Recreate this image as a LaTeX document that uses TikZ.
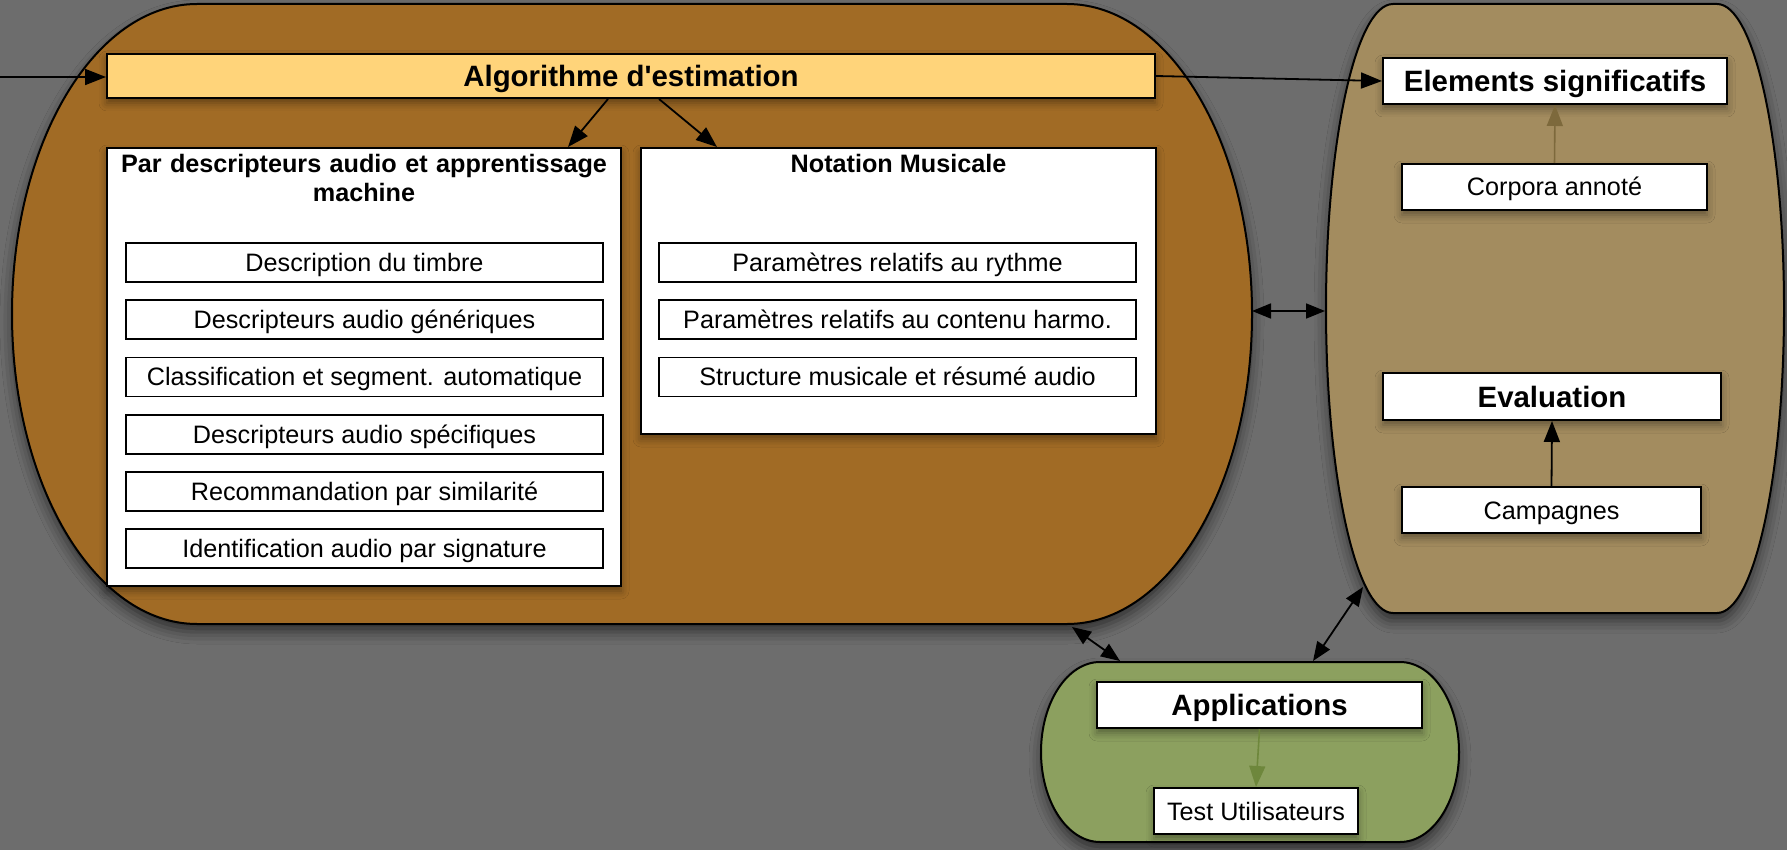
\documentclass[tikz,border=0pt]{standalone}
\usepackage{fontspec}
\setmainfont{Liberation Sans}
\usepackage{xcolor}
\usetikzlibrary{arrows.meta, positioning, shadows.blur}

\definecolor{canvas}{HTML}{6D6D6D}
\definecolor{umber}{HTML}{A16B25}
\definecolor{khaki}{HTML}{A38C5F}
\definecolor{sage}{HTML}{8CA05F}
\definecolor{apricot}{HTML}{FFD47A}
\definecolor{khakiline}{HTML}{7D693C}
\definecolor{sageline}{HTML}{6E873C}

\begin{document}
\begin{tikzpicture}[
    x=0.5pt, y=0.5pt,
    soft/.style={blur shadow={shadow xshift=0pt, shadow yshift=-2.5pt,
                 shadow blur radius=4pt, shadow opacity=40}},
    blob/.style={draw, line width=1pt,
                 blur shadow={shadow xshift=0pt, shadow yshift=-4pt,
                 shadow blur radius=6pt, shadow opacity=55}},
    panel/.style={draw, fill=white, line width=1pt, minimum width=257pt,
                  inner sep=0pt, soft},
    bar/.style={draw, fill=apricot, line width=1pt, minimum width=524pt,
                minimum height=22pt, inner sep=0pt, soft,
                text height=10.5pt, text depth=0pt,
                font=\fontsize{14.7}{17}\selectfont\bfseries},
    tag/.style={draw, fill=white, line width=1pt, minimum height=23pt,
                inner sep=0pt, soft, text height=10.5pt, text depth=0pt,
                font=\fontsize{14.7}{17}\selectfont\bfseries},
    leaf/.style={draw, fill=white, line width=1pt, minimum height=23pt,
                 inner sep=0pt, soft, text height=9pt, text depth=0pt,
                 font=\fontsize{12.6}{14.5}\selectfont},
    item/.style={draw, fill=white, line width=0.9pt, minimum width=238.5pt,
                 minimum height=19.5pt, inner sep=0pt,
                 text height=9pt, text depth=0pt,
                 font=\fontsize{12.6}{14.5}\selectfont},
    head/.style={align=center, inner sep=0pt,
                 font=\fontsize{12.6}{14.5}\selectfont\bfseries},
    arr/.style={-{Triangle[length=10.5pt, width=8pt, fill=#1]}, draw=#1,
                line width=0.9pt},
    arr/.default=black,
    both/.style={{Triangle[length=9.5pt, width=7.5pt, fill=black]}-{Triangle[length=9.5pt, width=7.5pt, fill=black]},
                 line width=0.9pt},
    node distance=8.2pt
]
% background
\fill[canvas] (0,0) rectangle (1787,-850);
\useasboundingbox (0,0) rectangle (1787,-850);

% the three zones
\path[blob, fill=umber] (197,-4) -- (1067,-4)
    arc[start angle=90, end angle=-90, x radius=185, y radius=310]
    -- (197,-624) arc[start angle=270, end angle=90, x radius=185, y radius=310]
    -- cycle;
\path[blob, fill=khaki] (1393,-4) -- (1717,-4)
    arc[start angle=90, end angle=-90, x radius=67, y radius=304.5]
    -- (1393,-613) arc[start angle=270, end angle=90, x radius=67, y radius=304.5]
    -- cycle;
\path[blob, fill=sage] (1100,-662) -- (1400,-662)
    arc[start angle=90, end angle=-90, x radius=59, y radius=90]
    -- (1100,-842) arc[start angle=270, end angle=90, x radius=59, y radius=90]
    -- cycle;

% points on the zone outlines
\coordinate (inlet) at (0,-77);
\coordinate (umberE) at (1252,-311);
\coordinate (khakiW) at (1325,-311);
\coordinate (umberS) at (1072,-627);
\coordinate (sageNW) at (1120,-661);
\coordinate (khakiSW) at (1363,-587);
\coordinate (sageNE) at (1313,-661);

% estimation
\node[bar] (algo) at (631,-76) {Algorithme d\textquotesingle estimation};

\node[panel, minimum height=219pt] (audioML) at (364,-367) {};
\node[head, text width=250pt] (audioMLtitle) at (364,-177.5)
    {Par descripteurs audio et apprentissage\\machine};
\node[item] (timbre) at (364.5,-262.5) {Description du timbre};
\node[item, below=of timbre] (generic) {Descripteurs audio génériques};
\node[item, below=of generic] (classif) {Classification et segment. automatique};
\node[item, below=of classif] (specific) {Descripteurs audio spécifiques};
\node[item, below=of specific] (reco) {Recommandation par similarité};
\node[item, below=of reco] (ident) {Identification audio par signature};

\node[panel, minimum width=257.5pt, minimum height=143pt] (notation) at (898.5,-291) {};
\node[head] (notationtitle) at (898.5,-163) {Notation Musicale};
\node[item] (rhythm) at (897.5,-262.5) {Paramètres relatifs au rythme};
\node[item, below=of rhythm] (harmony) {Paramètres relatifs au contenu harmo.};
\node[item, below=of harmony] (structure) {Structure musicale et résumé audio};

% evaluation side
\node[tag, minimum width=172pt] (elements) at (1555,-81) {Elements significatifs};
\node[leaf, minimum width=152.5pt] (corpora) at (1554.5,-187) {Corpora annoté};
\node[tag, minimum width=169pt, minimum height=23.5pt] (evaluation) at (1552,-396.5) {Evaluation};
\node[leaf, minimum width=149.5pt] (campaigns) at (1551.5,-510) {Campagnes};

% applications
\node[tag, minimum width=162.5pt] (applications) at (1259.5,-705) {Applications};
\node[leaf, minimum width=102pt] (usertest) at (1256,-811) {Test Utilisateurs};

% links
\draw[arr] (inlet) -- (algo.west |- inlet);
\draw[arr] ([xshift=-11.5pt]algo.south) -- ([xshift=-27pt]audioML.north east);
\draw[arr] ([xshift=14pt]algo.south) -- ([xshift=38.5pt]notation.north west);
\draw[arr] (algo.east) -- (elements.west);
\draw[arr=khakiline, line width=0.8pt] (corpora.north) -- (elements.south);
\draw[arr] (campaigns.north) -- (evaluation.south);
\draw[arr=sageline, line width=0.8pt] (applications.south) -- (usertest.north);

\draw[both] (umberE) -- (khakiW);
\draw[both] (umberS) -- (sageNW);
\draw[both] (khakiSW) -- (sageNE);
\end{tikzpicture}
\end{document}
